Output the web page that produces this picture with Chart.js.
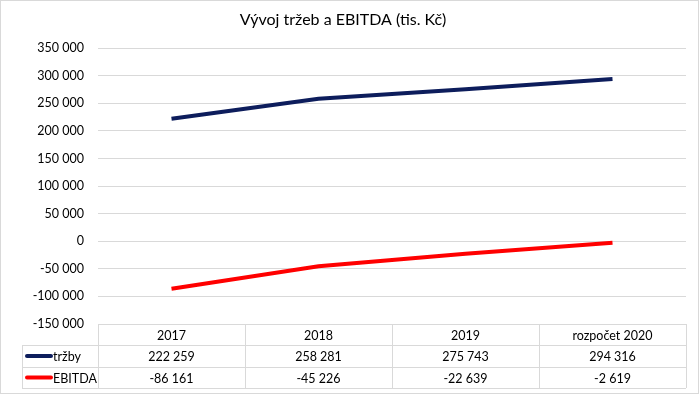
<!DOCTYPE html>
<html>
<head>
<meta charset="utf-8">
<script src="https://cdn.jsdelivr.net/npm/chart.js@4"></script>
<style>
  html, body { margin: 0; padding: 0; background: #fff; }
  #wrap { width: 700px; height: 395px; position: relative; }
</style>
</head>
<body>
<div id="wrap"><canvas id="chart"></canvas></div>
<script>
const categories = ['2017', '2018', '2019', 'rozpočet 2020'];
const trzby = [222259, 258281, 275743, 294316];
const ebitda = [-86161, -45226, -22639, -2619];
const seriesNames = ['tržby', 'EBITDA'];
const seriesColors = ['#0d1d5c', '#ff0000'];

const FONT = 'Lato, "Open Sans", sans-serif';
const GRID = '#d9d9d9';

function fmt(v) {
    const s = Math.abs(v).toString().replace(/\B(?=(\d{3})+(?!\d))/g, ' ');
    return (v < 0 ? '-' : '') + s;
}

// data table under the plot + outer border
const dataTable = {
    id: 'dataTable',
    afterDraw(chart) {
        const { ctx, chartArea, scales } = chart;
        const x = scales.x;
        const colW = chartArea.width / categories.length;
        const top = chartArea.bottom;
        const rowH = [21, 22, 21];
        const y1 = top + rowH[0], y2 = y1 + rowH[1], y3 = y2 + rowH[2];
        const legendLeft = 22;

        ctx.save();
        ctx.strokeStyle = GRID;
        ctx.lineWidth = 1;
        ctx.beginPath();
        ctx.moveTo(chartArea.left, top + 0.5); ctx.lineTo(chartArea.right, top + 0.5);
        [y1, y2, y3].forEach(y => { ctx.moveTo(legendLeft, y + 0.5); ctx.lineTo(chartArea.right, y + 0.5); });
        ctx.moveTo(legendLeft + 0.5, y1); ctx.lineTo(legendLeft + 0.5, y3);
        for (let i = 0; i <= categories.length; i++) {
            const cx = Math.round(chartArea.left + i * colW) + 0.5;
            ctx.moveTo(cx, top); ctx.lineTo(cx, y3);
        }
        ctx.stroke();

        // outer border
        ctx.strokeRect(0.5, 0.5, 698, 393);

        ctx.fillStyle = '#000';
        ctx.font = '12.5px ' + FONT;
        ctx.textAlign = 'center';
        ctx.textBaseline = 'middle';
        categories.forEach((c, i) => {
            const cx = x.getPixelForValue(i);
            ctx.fillText(c, cx, top + rowH[0] / 2 + 1);
            ctx.fillText(fmt(trzby[i]), cx, y1 + rowH[1] / 2 + 1);
            ctx.fillText(fmt(ebitda[i]), cx, y2 + rowH[2] / 2 + 1);
        });

        // legend keys
        [y1 + rowH[1] / 2, y2 + rowH[2] / 2].forEach((cy, k) => {
            ctx.strokeStyle = seriesColors[k];
            ctx.lineWidth = 4;
            ctx.lineCap = 'round';
            ctx.beginPath();
            ctx.moveTo(27, cy); ctx.lineTo(51, cy);
            ctx.stroke();
            ctx.textAlign = 'left';
            ctx.fillText(seriesNames[k], 53, cy + 1);
        });
        ctx.restore();
    }
};

new Chart(document.getElementById('chart'), {
    type: 'line',
    data: {
        labels: categories,
        datasets: [
            { label: seriesNames[0], data: trzby, borderColor: seriesColors[0], backgroundColor: seriesColors[0], borderWidth: 4, pointRadius: 0, tension: 0 },
            { label: seriesNames[1], data: ebitda, borderColor: seriesColors[1], backgroundColor: seriesColors[1], borderWidth: 4, pointRadius: 0, tension: 0 }
        ]
    },
    options: {
        responsive: true,
        maintainAspectRatio: false,
        animation: false,
        layout: { padding: { left: 0, right: 14, top: 0, bottom: 71 } },
        plugins: {
            legend: { display: false },
            tooltip: { enabled: false },
            title: {
                display: true,
                text: 'Vývoj tržeb a EBITDA (tis. Kč)',
                color: '#000',
                font: { family: FONT, size: 16, weight: 'normal' },
                padding: { top: 10, bottom: 19 }
            }
        },
        scales: {
            x: { display: false, offset: true },
            y: {
                min: -150000,
                max: 350000,
                afterFit(scale) { scale.width = 98; },
                ticks: {
                    stepSize: 50000,
                    color: '#000',
                    font: { family: FONT, size: 12.5 },
                    padding: 14,
                    callback: v => fmt(v)
                },
                grid: { color: GRID, drawTicks: false },
                border: { display: false }
            }
        }
    },
    plugins: [dataTable]
});
</script>
</body>
</html>
